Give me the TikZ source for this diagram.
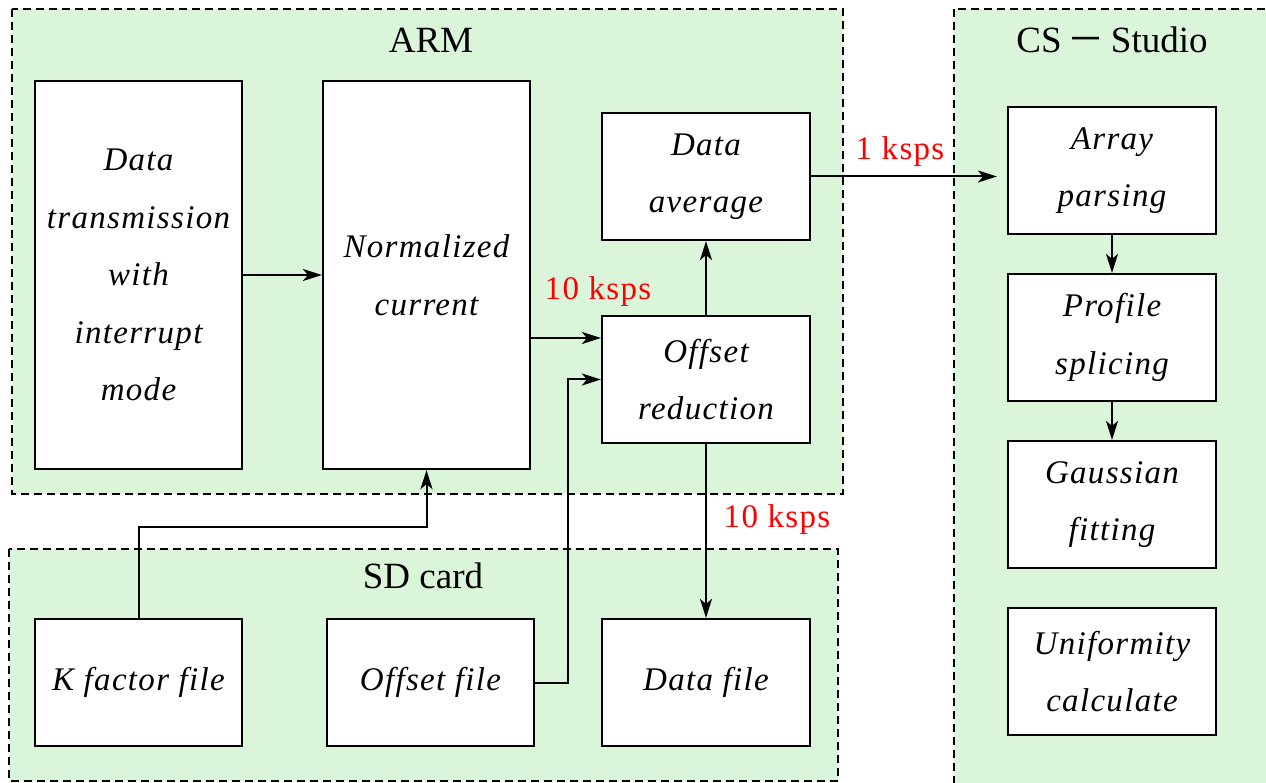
\documentclass[tikz,border=0pt]{standalone}
\usepackage{fontspec}
\setmainfont{Liberation Serif}
\newfontfamily\lsfont{Liberation Serif}[LetterSpace=4]
\newfontfamily\cjk{Noto Sans CJK SC}
\usetikzlibrary{arrows.meta}
\definecolor{grp}{RGB}{218,245,218}
\tikzset{
  group/.style={draw=black, fill=grp, line width=2pt, dash pattern=on 8pt off 5pt},
  title/.style={font=\fontsize{37}{40}\selectfont, inner sep=0pt},
  box/.style={draw=black, fill=white, line width=2.2pt, align=center, inner sep=0pt,
    font=\lsfont\itshape\fontsize{33}{57.5}\selectfont},
  rate/.style={text=red, inner sep=0pt, font=\lsfont\fontsize{33}{36}\selectfont},
  arr/.style={line width=2pt, -{Stealth[length=19pt,width=12pt,inset=5pt]}},
}
\begin{document}
\begin{tikzpicture}[x=1pt,y=-1pt]
\useasboundingbox (0,0) rectangle (1266,783);
\clip (0,0) rectangle (1266,783);
\fill[white] (0,0) rectangle (1266,783);
% groups
\draw[group] (12,9) rectangle (843,494);
\draw[group] (9,549) rectangle (838,781);
\draw[group] (954,9) rectangle (1290,810);
\node[title] (tarm) at (431,40) {ARM};
\node[title] (tsd) at (423,576) {SD card};
\node[title] (tcs) at (1112,40) {CS\,{\cjk －}\,Studio};
% ARM boxes
\node[box, minimum width=207pt, minimum height=388pt] (dt) at (138.5,275) {Data\\transmission\\with\\interrupt\\mode};
\node[box, minimum width=207pt, minimum height=388pt] (nc) at (426.5,275) {Normalized\\current};
\node[box, minimum width=208pt, minimum height=127pt] (da) at (706,176.5) {Data\\average};
\node[box, minimum width=208pt, minimum height=127pt] (or) at (706,379.5) {Offset\\reduction};
% SD boxes
\node[box, minimum width=207pt, minimum height=127pt] (kf) at (138.5,682.5) {K factor file};
\node[box, minimum width=207pt, minimum height=127pt] (of) at (430.5,682.5) {Offset file};
\node[box, minimum width=208pt, minimum height=127pt] (df) at (706,682.5) {Data file};
% CS boxes
\node[box, minimum width=208pt, minimum height=127pt] (ap) at (1112,170.5) {Array\\parsing};
\node[box, minimum width=208pt, minimum height=127pt] (ps) at (1112,337.5) {Profile\\splicing};
\node[box, minimum width=208pt, minimum height=127pt] (gf) at (1112,504.5) {Gaussian\\fitting};
\node[box, minimum width=208pt, minimum height=127pt] (uc) at (1112,671.5) {Uniformity\\calculate};
% connectors
\draw[arr] (dt.east) -- (nc.west);
\draw[arr] (nc.east |- 0,338) -- (or.west |- 0,338);
\draw[arr] (of.east) -- (568,682.5) |- (or.west);
\draw[arr] (kf.north) -- ++(0,-91) -| (nc.south);
\draw[arr] (or.north) -- (da.south);
\draw[arr] (or.south) -- (df.north);
\draw[arr, shorten >=10pt] (da.east) -- (ap.west |- da.east);
\draw[arr] (ap.south) -- (ps.north);
\draw[arr] (ps.south) -- (gf.north);
% rates
\node[rate] (r1) at (598,292) {10 ksps};
\node[rate] (r2) at (900,152) {1 ksps};
\node[rate] (r3) at (777,520) {10 ksps};
\end{tikzpicture}
\end{document}
